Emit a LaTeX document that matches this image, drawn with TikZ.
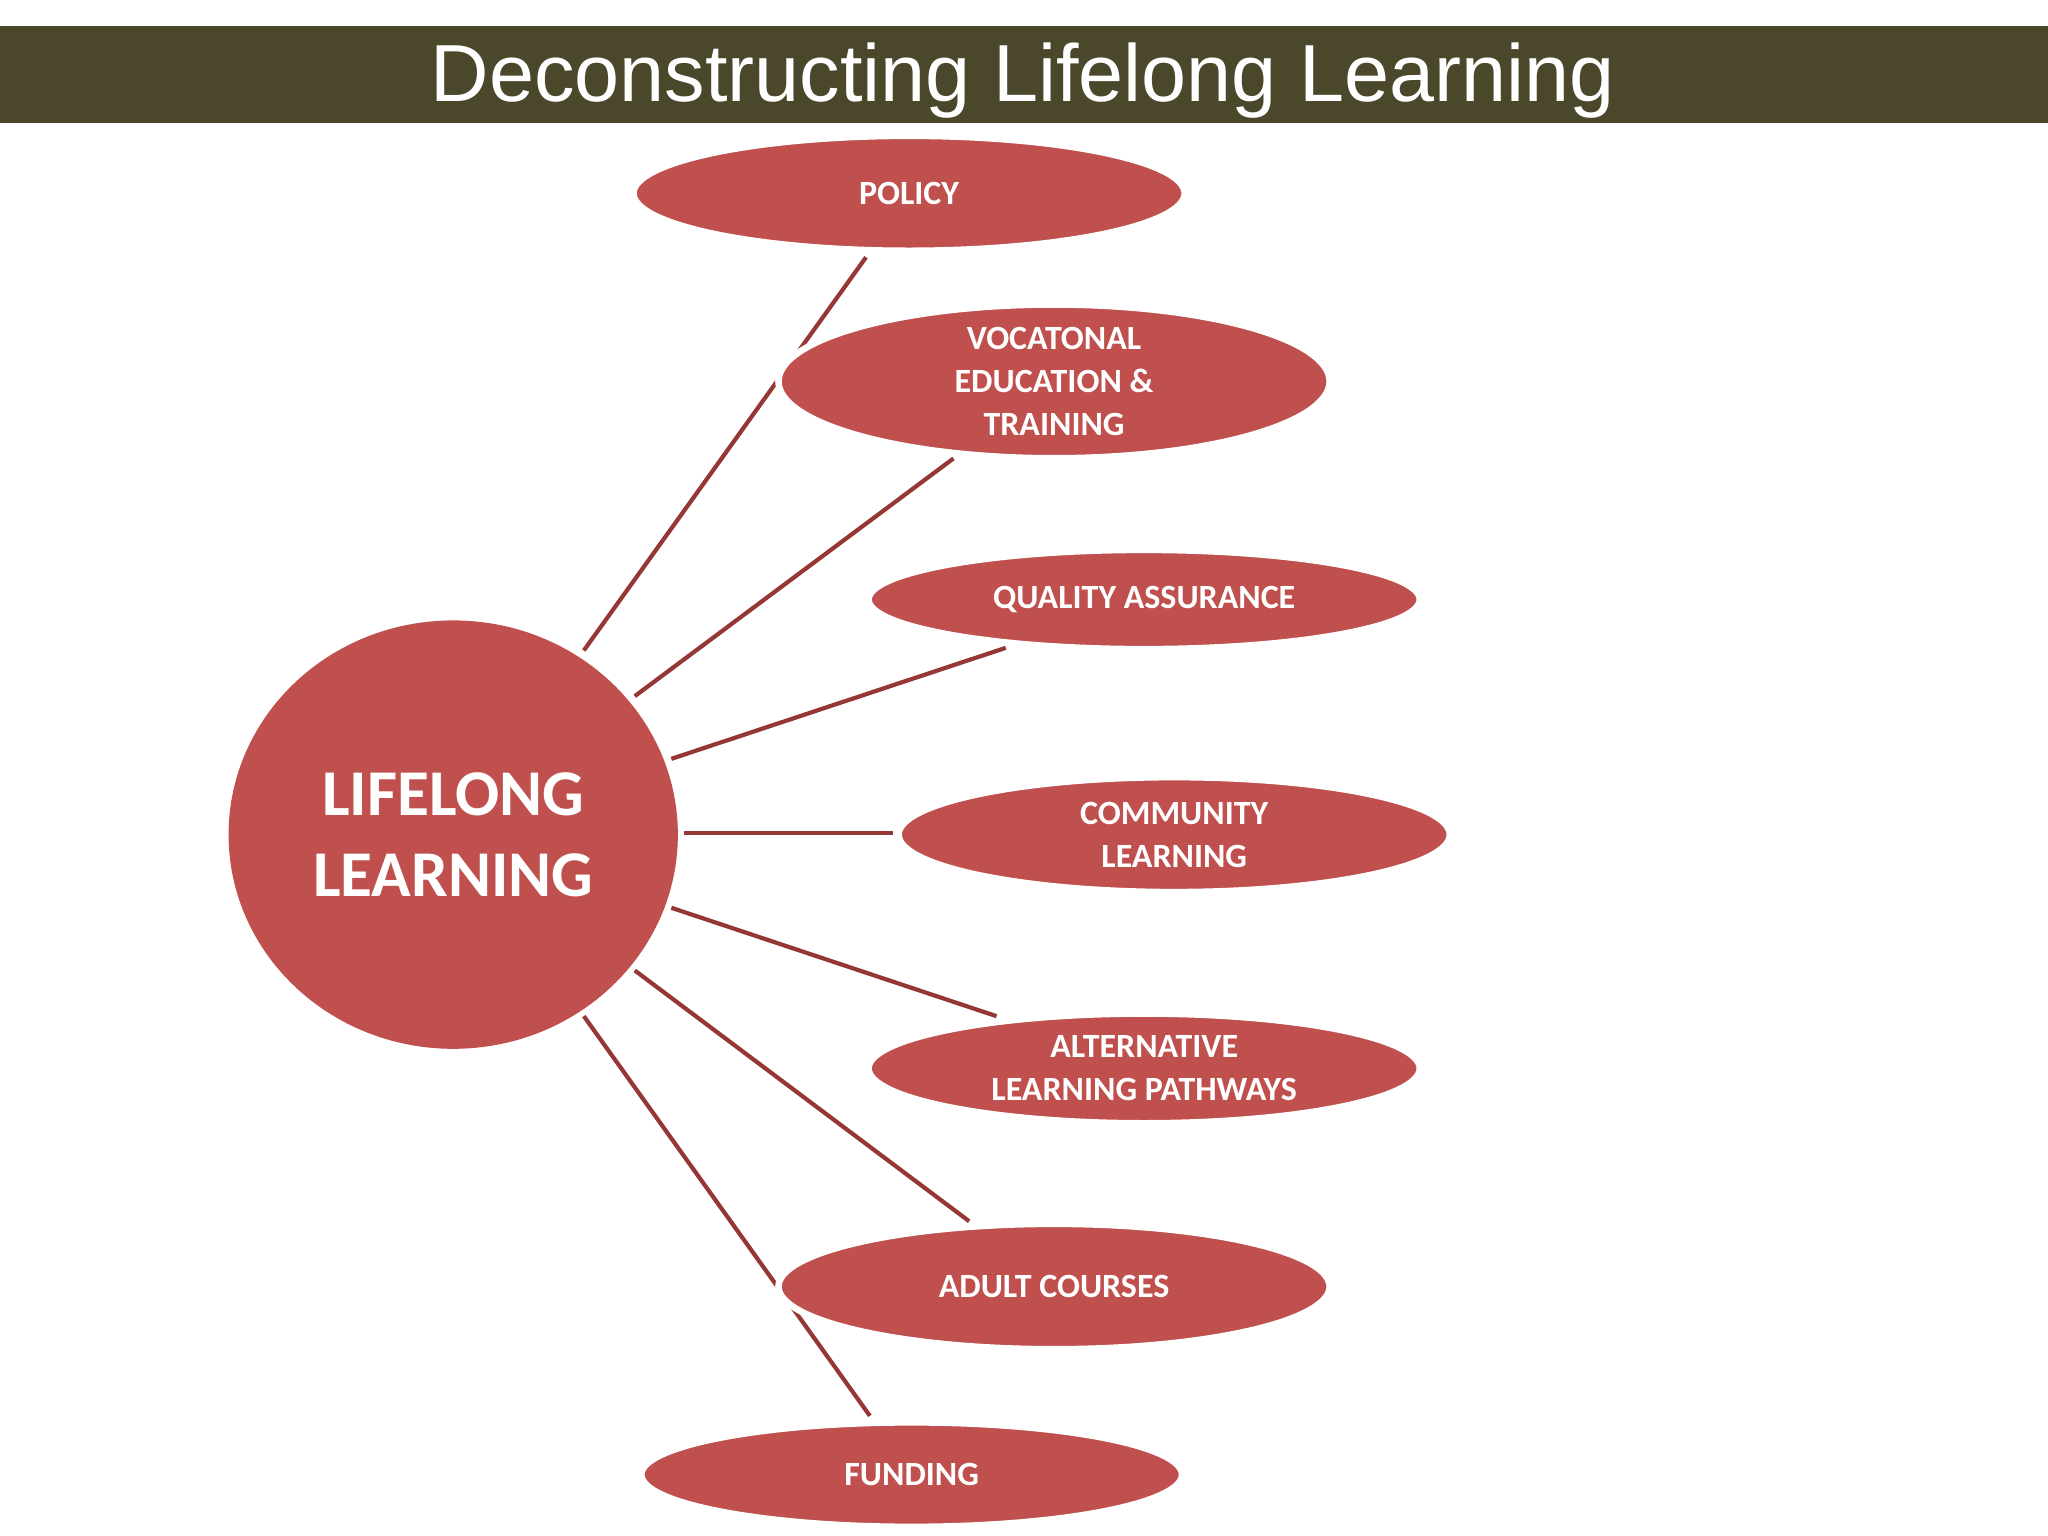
\documentclass[tikz,border=0pt]{standalone}
\usepackage{fontspec}
\setmainfont{Carlito}
\newfontfamily\titlefont{Liberation Sans}
\usetikzlibrary{shapes.geometric}
\definecolor{bar}{HTML}{4A472A}
\definecolor{fillred}{HTML}{C0504D}
\definecolor{linered}{HTML}{953735}
\tikzset{
  leaf/.style={ellipse, fill=fillred, draw=white, line width=2.5pt, text=white, font=\bfseries\fontsize{13}{16.5}\selectfont, align=center, inner sep=0pt},
  conn/.style={draw=linered, line width=1.6pt}
}
\begin{document}
\begin{tikzpicture}[x=0.5pt,y=-0.5pt]
\useasboundingbox[fill=white] (0,0) rectangle (1568,1176);
\fill[bar] (0,20) rectangle (1568,94);
\node[text=white, font=\titlefont\fontsize{31}{36}\selectfont] (title) at (783,62) {Deconstructing Lifelong Learning};
% connector endpoints
\coordinate (a1) at (447,498); \coordinate (b1) at (663,197);
\coordinate (a2) at (486,533); \coordinate (b2) at (730,351);
\coordinate (a3) at (514,581); \coordinate (b3) at (770,496);
\coordinate (a4) at (524,638); \coordinate (b4) at (684,638);
\coordinate (a5) at (514,695); \coordinate (b5) at (763,778);
\coordinate (a6) at (486,743); \coordinate (b6) at (742,935);
\coordinate (a7) at (447,778); \coordinate (b7) at (666,1084);
\foreach \i in {1,...,7} {\draw[conn] (a\i) -- (b\i);}
\node[leaf, minimum width=422\pgflinewidth/\pgflinewidth*0.5pt, minimum height=44pt] (policy) at (696,148) {POLICY};
\node[leaf, minimum width=211pt, minimum height=58pt] (voc) at (807,292) {VOCATONAL\\EDUCATION \&\\TRAINING};
\node[leaf, minimum width=211pt, minimum height=38pt] (qa) at (876,459) {QUALITY ASSURANCE};
\node[leaf, minimum width=211pt, minimum height=44pt] (comm) at (899,639) {COMMUNITY\\LEARNING};
\node[leaf, minimum width=211pt, minimum height=42pt] (alt) at (876,818) {ALTERNATIVE\\LEARNING PATHWAYS};
\node[leaf, minimum width=211pt, minimum height=48pt] (adult) at (807,985) {ADULT COURSES};
\node[leaf, minimum width=207pt, minimum height=40pt] (fund) at (698,1129) {FUNDING};
\node[ellipse, fill=fillred, minimum width=172pt, minimum height=164pt, inner sep=0pt, text=white, align=center, font=\bfseries\fontsize{25}{31}\selectfont] (ll) at (347,639) {LIFELONG\\LEARNING};
\end{tikzpicture}
\end{document}
